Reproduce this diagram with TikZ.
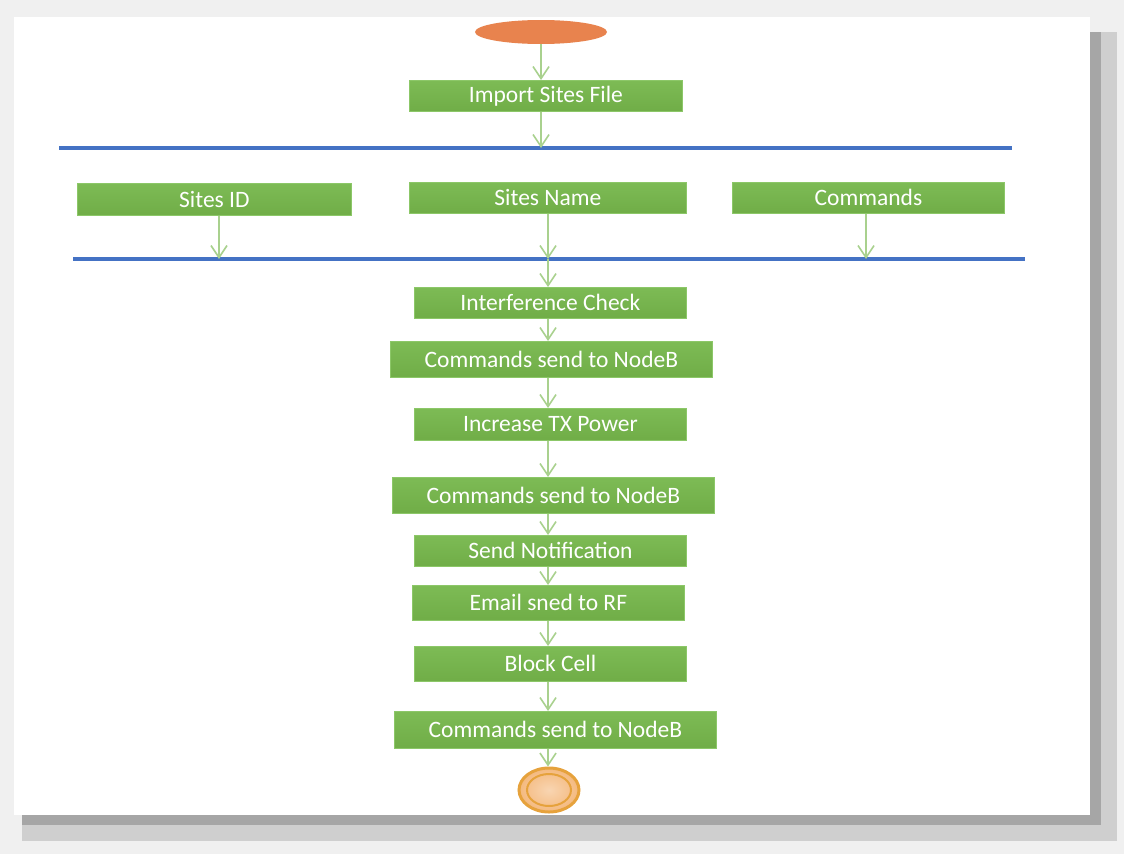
\documentclass[tikz,border=0pt]{standalone}
\usepackage{fontspec}
\setmainfont{Carlito}
\usetikzlibrary{arrows.meta,shapes.geometric}
\definecolor{boxgreen}{HTML}{70AD47}
\definecolor{boxtop}{HTML}{7DBB55}
\definecolor{boxedge}{HTML}{8CC768}
\definecolor{flow}{HTML}{A9D18E}
\definecolor{barblue}{HTML}{4472C4}
\definecolor{startorange}{HTML}{E8834E}
\definecolor{endfill}{HTML}{F4B97E}
\definecolor{endedge}{HTML}{E6A23C}
\definecolor{pagegray}{HTML}{F0F0F0}
\definecolor{shadowdark}{HTML}{A6A6A6}
\definecolor{shadowmid}{HTML}{CFCFCF}
\begin{document}
\begin{tikzpicture}[x=1pt,y=-1pt,
  stepbox/.style={rectangle, inner sep=0pt, anchor=north west,
    top color=boxtop, bottom color=boxgreen, draw=boxedge, line width=0.8pt,
    text=white, font=\fontsize{23.5}{28}\selectfont},
  bar/.style={rectangle, inner sep=0pt, minimum height=4pt, fill=barblue, anchor=west},
  flowarrow/.style={draw=flow, line width=2pt, -{Straight Barb[length=12pt,width=16pt,line width=1.6pt]}}]
% page with its drop shadow
\fill[pagegray] (0,0) rectangle (1124,854);
\fill[shadowmid] (22,32) rectangle (1117,841);
\fill[shadowdark] (22,32) rectangle (1101,825);
\fill[white] (14,17) rectangle (1090,815);
\useasboundingbox (0,0) rectangle (1124,854);

% start and end
\node[ellipse, fill=startorange, minimum width=132pt, minimum height=24pt, inner sep=0pt] (start) at (541,32) {};
\node[ellipse, draw=endedge, line width=3pt, inner color=endfill!60, outer color=endfill, minimum width=60pt, minimum height=44pt, inner sep=0pt] (end) at (549,790) {};
\draw[endedge, line width=2pt] (end.center) ellipse [x radius=22pt, y radius=16pt];

% import step
\node[stepbox, minimum width=273pt, minimum height=31pt] (import) at (409,80) {Import Sites File};

% fork and join bars
\node[bar, minimum width=953pt] (fork) at (59,148) {};
\node[bar, minimum width=952pt] (join) at (73,259) {};

% parallel steps
\node[stepbox, minimum width=274pt, minimum height=32pt] (siteid) at (77,183) {Sites ID};
\node[stepbox, minimum width=277pt, minimum height=31pt] (sitename) at (409,182) {Sites Name};
\node[stepbox, minimum width=272pt, minimum height=31pt] (commands) at (732,182) {Commands};

% sequential steps
\node[stepbox, minimum width=272pt, minimum height=31pt] (interf) at (414,287) {Interference Check};
\node[stepbox, minimum width=322pt, minimum height=36pt] (sendA) at (390,341) {Commands send to NodeB};
\node[stepbox, minimum width=272pt, minimum height=32pt] (txpower) at (414,408) {Increase TX Power};
\node[stepbox, minimum width=322pt, minimum height=36pt] (sendB) at (392,477) {Commands send to NodeB};
\node[stepbox, minimum width=272pt, minimum height=31pt] (notify) at (414,535) {Send Notification};
\node[stepbox, minimum width=272pt, minimum height=35pt] (email) at (412,585) {Email sned to RF};
\node[stepbox, minimum width=272pt, minimum height=35pt] (block) at (414,646) {Block Cell};
\node[stepbox, minimum width=322pt, minimum height=37pt] (sendC) at (394,711) {Commands send to NodeB};

% connectors
\coordinate (spine) at (548,0);
\coordinate (top) at (541,0);
\draw[flowarrow] (start.south -| top) -- (import.north -| top);
\draw[flowarrow] (import.south -| top) -- (fork.center -| top);
\draw[flowarrow] (siteid.south -| 219,0) -- (join.center -| 219,0);
\draw[flowarrow] (sitename.south -| spine) -- (join.center -| spine);
\draw[flowarrow] (commands.south -| 866,0) -- (join.center -| 866,0);
\draw[flowarrow] (join.center -| spine) -- (interf.north -| spine);
\draw[flowarrow] (interf.south -| spine) -- (sendA.north -| spine);
\draw[flowarrow] (sendA.south -| spine) -- (txpower.north -| spine);
\draw[flowarrow] (txpower.south -| spine) -- (sendB.north -| spine);
\draw[flowarrow] (sendB.south -| spine) -- (notify.north -| spine);
\draw[flowarrow] (notify.south -| spine) -- (email.north -| spine);
\draw[flowarrow] (email.south -| spine) -- (block.north -| spine);
\draw[flowarrow] (block.south -| spine) -- (sendC.north -| spine);
\draw[flowarrow] (sendC.south -| spine) -- (end.north -| spine);
\end{tikzpicture}
\end{document}
